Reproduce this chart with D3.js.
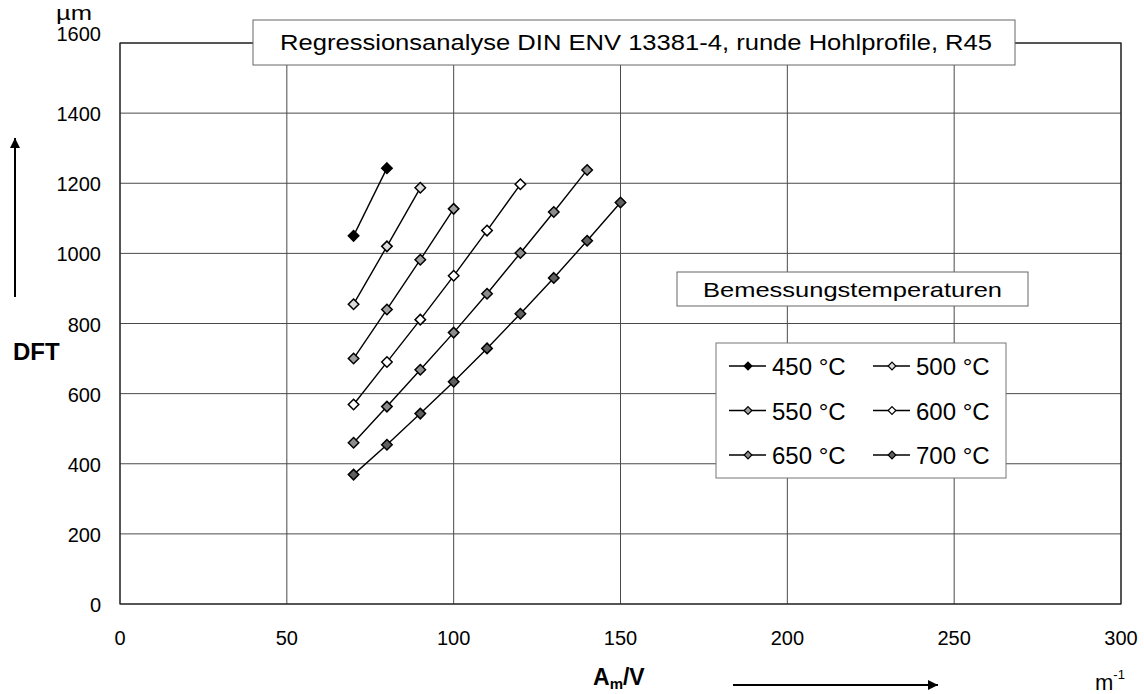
<!DOCTYPE html>
<html>
<head>
<meta charset="utf-8">
<script src="https://cdn.jsdelivr.net/npm/d3@7"></script>
<style>
  body { margin: 0; background: #fff; }
  svg { font-family: "Liberation Sans", Arial, sans-serif; }
</style>
</head>
<body>
<svg id="chart" width="1144" height="694"></svg>
<script>
// data
const xValues = [70, 80, 90, 100, 110, 120, 130, 140, 150];
const temps = ['450 °C', '500 °C', '550 °C', '600 °C', '650 °C', '700 °C'];
const dft450 = [1050, 1243];
const dft500 = [855, 1020, 1187];
const dft550 = [700, 840, 982, 1127];
const dft600 = [569, 690, 811, 936, 1065, 1197];
const dft650 = [460, 563, 668, 774, 885, 1001, 1118, 1238];
const dft700 = [369, 454, 543, 634, 729, 828, 930, 1036, 1145];
const xTicks = [0, 50, 100, 150, 200, 250, 300];
const yTicks = [0, 200, 400, 600, 800, 1000, 1200, 1400, 1600];

const seriesValues = [dft450, dft500, dft550, dft600, dft650, dft700];
const fills = ['#000000', '#dcdcdc', '#a0a0a0', '#ffffff', '#8c8c8c', '#606060'];

const svg = d3.select('#chart');
const plotL = 120, plotR = 1121, plotT = 43, plotB = 604;

const x = d3.scaleLinear().domain([0, 300]).range([plotL, plotR]);
const y = d3.scaleLinear().domain([0, 1600]).range([plotB, plotT]);

// grid
svg.append('g').selectAll('line')
  .data(xTicks)
  .join('line')
  .attr('x1', d => x(d)).attr('x2', d => x(d))
  .attr('y1', plotT).attr('y2', plotB)
  .attr('stroke', '#4a4a4a').attr('stroke-width', 1);
svg.append('g').selectAll('line')
  .data(yTicks)
  .join('line')
  .attr('x1', plotL).attr('x2', plotR)
  .attr('y1', d => y(d)).attr('y2', d => y(d))
  .attr('stroke', '#4a4a4a').attr('stroke-width', 1);

svg.append('rect')
  .attr('x', plotL).attr('y', plotT)
  .attr('width', plotR - plotL).attr('height', plotB - plotT)
  .attr('fill', 'none').attr('stroke', '#222').attr('stroke-width', 1.2);

// tick labels
svg.append('g').selectAll('text')
  .data(yTicks)
  .join('text')
  .attr('x', 101).attr('y', d => d === 1600 ? y(d) - 2 : y(d) + 8)
  .attr('text-anchor', 'end').attr('font-size', 20)
  .text(d => d);
svg.append('g').selectAll('text')
  .data(xTicks)
  .join('text')
  .attr('x', d => x(d)).attr('y', 645)
  .attr('text-anchor', 'middle').attr('font-size', 20)
  .text(d => d);

// series
const line = d3.line().x(d => x(d.x)).y(d => y(d.y));
const diamond = d3.symbol().type(d3.symbolDiamond2).size(70);

seriesValues.forEach((vals, i) => {
  const pts = vals.map((v, j) => ({ x: xValues[j], y: v }));
  svg.append('path')
    .datum(pts)
    .attr('d', line)
    .attr('fill', 'none').attr('stroke', '#000').attr('stroke-width', 1.4);
  svg.append('g').selectAll('path')
    .data(pts)
    .join('path')
    .attr('d', diamond)
    .attr('transform', d => `translate(${x(d.x)},${y(d.y)})`)
    .attr('fill', fills[i]).attr('stroke', '#000').attr('stroke-width', 1.5);
});

// title box
svg.append('rect')
  .attr('x', 253).attr('y', 20).attr('width', 762).attr('height', 45)
  .attr('fill', '#fff').attr('stroke', '#666');
svg.append('text')
  .attr('x', 280).attr('y', 50).attr('font-size', 22)
  .attr('textLength', 712).attr('lengthAdjust', 'spacingAndGlyphs')
  .text('Regressionsanalyse DIN ENV 13381-4, runde Hohlprofile, R45');

// legend title box
svg.append('rect')
  .attr('x', 677).attr('y', 272).attr('width', 351).attr('height', 34)
  .attr('fill', '#fff').attr('stroke', '#666');
svg.append('text')
  .attr('x', 703).attr('y', 297).attr('font-size', 21)
  .attr('textLength', 299).attr('lengthAdjust', 'spacingAndGlyphs')
  .text('Bemessungstemperaturen');

// legend
svg.append('rect')
  .attr('x', 716).attr('y', 343).attr('width', 290).attr('height', 135)
  .attr('fill', '#fff').attr('stroke', '#777');
const leg = svg.append('g').selectAll('g')
  .data(temps)
  .join('g')
  .attr('transform', (d, i) => `translate(${729 + (i % 2) * 144},${366 + Math.floor(i / 2) * 44.5})`);
leg.append('line')
  .attr('x1', 0).attr('x2', 37).attr('y1', 0).attr('y2', 0)
  .attr('stroke', '#000').attr('stroke-width', 1.4);
leg.append('path')
  .attr('d', d3.symbol().type(d3.symbolDiamond2).size(38))
  .attr('transform', 'translate(19,0)')
  .attr('fill', (d, i) => fills[i]).attr('stroke', '#000').attr('stroke-width', 1.2);
leg.append('text')
  .attr('x', 43).attr('y', 9).attr('font-size', 24)
  .text(d => d);

// axis titles
svg.append('text').attr('x', 56).attr('y', 20).attr('font-size', 20)
  .attr('textLength', 36).attr('lengthAdjust', 'spacingAndGlyphs').text('µm');
svg.append('text').attr('x', 13).attr('y', 360).attr('font-size', 24)
  .attr('font-weight', 'bold').text('DFT');

const at = svg.append('text').attr('x', 593).attr('y', 685)
  .attr('font-size', 23).attr('font-weight', 'bold');
at.append('tspan').text('A');
at.append('tspan').attr('font-size', 15).attr('dy', 4).text('m');
at.append('tspan').attr('dy', -4).text('/V');

const mt = svg.append('text').attr('x', 1095).attr('y', 690).attr('font-size', 22);
mt.append('tspan').text('m');
mt.append('tspan').attr('font-size', 13).attr('dy', -11).text('-1');

// arrows
const defs = svg.append('defs');
defs.append('marker')
  .attr('id', 'arr').attr('viewBox', '0 0 10 10')
  .attr('refX', 10).attr('refY', 5)
  .attr('markerWidth', 5).attr('markerHeight', 5)
  .attr('orient', 'auto')
  .append('path').attr('d', 'M0,0 L10,5 L0,10 z').attr('fill', '#000');

svg.append('line')
  .attr('x1', 15).attr('x2', 15).attr('y1', 297).attr('y2', 138)
  .attr('stroke', '#000').attr('stroke-width', 2)
  .attr('marker-end', 'url(#arr)');
svg.append('line')
  .attr('x1', 733).attr('x2', 938).attr('y1', 685).attr('y2', 685)
  .attr('stroke', '#000').attr('stroke-width', 2)
  .attr('marker-end', 'url(#arr)');
</script>
</body>
</html>
